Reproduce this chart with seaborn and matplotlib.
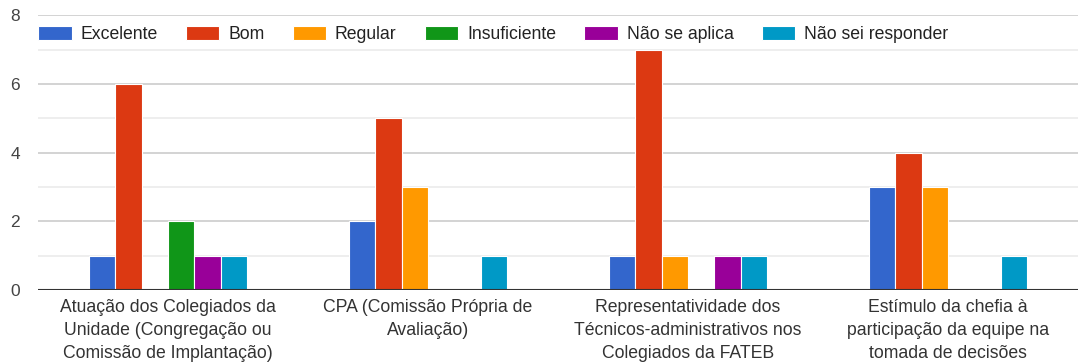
import matplotlib
matplotlib.use("Agg")
import matplotlib.pyplot as plt
import seaborn as sns
import pandas as pd
from matplotlib.ticker import MultipleLocator

# Survey answers per item
categories = [
    "Atuação dos Colegiados da\nUnidade (Congregação ou\nComissão de Implantação)",
    "CPA (Comissão Própria de\nAvaliação)",
    "Representatividade dos\nTécnicos-administrativos nos\nColegiados da FATEB",
    "Estímulo da chefia à\nparticipação da equipe na\ntomada de decisões",
]
series = ["Excelente", "Bom", "Regular", "Insuficiente", "Não se aplica", "Não sei responder"]
excelente = [1, 2, 1, 3]
bom = [6, 5, 7, 4]
regular = [0, 3, 1, 3]
insuficiente = [2, 0, 0, 0]
nao_se_aplica = [1, 0, 1, 0]
nao_sei = [1, 1, 1, 1]
colors = ["#3366cc", "#dc3912", "#ff9900", "#109618", "#990099", "#0099c6"]
yticks = [0, 2, 4, 6, 8]

values = [excelente, bom, regular, insuficiente, nao_se_aplica, nao_sei]
rows = []
for name, vals in zip(series, values):
    for cat, v in zip(categories, vals):
        rows.append({"categoria": cat, "resposta": name, "total": v})
df = pd.DataFrame(rows)

sns.set_theme(style="white")
plt.rcParams["font.family"] = ["Liberation Sans", "DejaVu Sans"]

fig = plt.figure(figsize=(10.78, 3.62), dpi=100)
ax = fig.add_axes([0.0353, 0.199, 0.9647, 0.759])

sns.barplot(
    data=df, x="categoria", y="total", hue="resposta",
    order=categories, hue_order=series, palette=colors,
    width=0.61, saturation=1, edgecolor="white", linewidth=0.8,
    ax=ax, zorder=2,
)

ax.set_ylim(0, 8)
ax.set_xlim(-0.5, len(categories) - 0.5)
ax.set_yticks(yticks)
ax.yaxis.set_minor_locator(MultipleLocator(1))
ax.grid(axis="y", which="major", color="#cccccc", linewidth=1.2, zorder=0)
ax.grid(axis="y", which="minor", color="#ebebeb", linewidth=1.2, zorder=0)
ax.set_axisbelow(True)
ax.axhline(0, color="#333333", linewidth=1.5, zorder=5)
for side in ["left", "right", "top", "bottom"]:
    ax.spines[side].set_visible(False)

ax.set_xlabel("")
ax.set_ylabel("")
ax.tick_params(axis="x", length=0, pad=6.5, labelsize=12.7, labelcolor="#333333")
ax.tick_params(axis="y", which="both", length=0, pad=13, labelsize=12.5, labelcolor="#444444")
for lbl in ax.get_xticklabels():
    lbl.set_linespacing(1.45)
    lbl.set_horizontalalignment("center")

leg = ax.legend(
    loc="upper left", bbox_to_anchor=(0.0, 0.962), ncol=6, frameon=False,
    fontsize=12.7, handlelength=1.9, handleheight=0.85, handletextpad=0.5,
    columnspacing=1.6, borderpad=0, borderaxespad=0,
)
for t in leg.get_texts():
    t.set_color("#222222")

fig.savefig("out.png", dpi=100)
